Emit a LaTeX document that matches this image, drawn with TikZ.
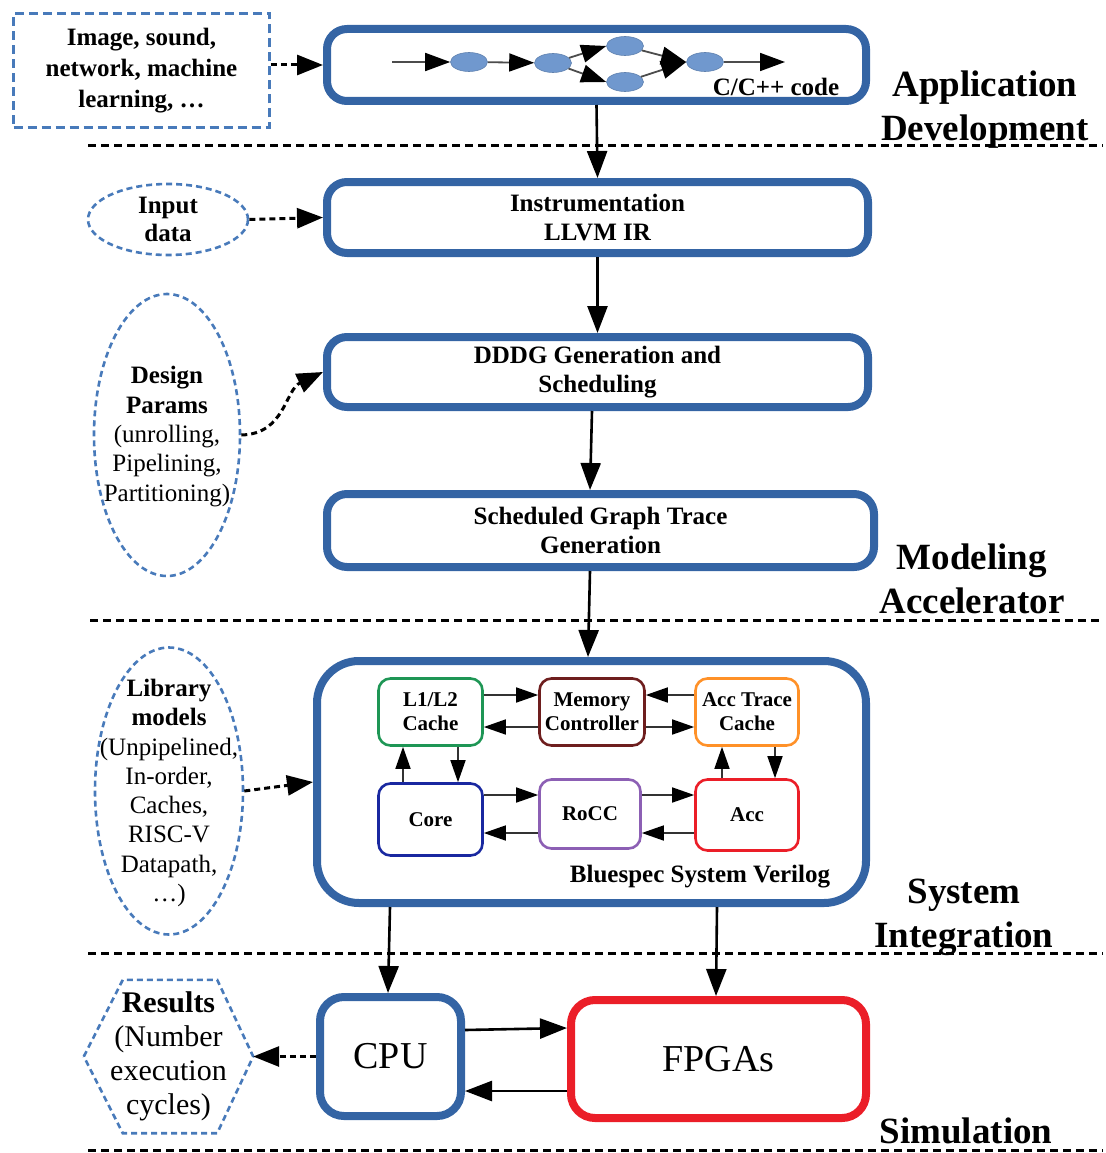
\documentclass[tikz,border=0pt]{standalone}
\usepackage{fontspec}
\setmainfont{Liberation Serif}
\usetikzlibrary{arrows.meta,shapes.geometric}
\definecolor{mblue}{RGB}{52,100,164}
\definecolor{dblue}{RGB}{72,122,186}
\definecolor{gfill}{RGB}{112,152,206}
\definecolor{cgreen}{RGB}{30,150,85}
\definecolor{cbrown}{RGB}{110,30,30}
\definecolor{corange}{RGB}{255,145,40}
\definecolor{cnavy}{RGB}{25,40,160}
\definecolor{cpurple}{RGB}{140,95,180}
\definecolor{cred}{RGB}{235,30,40}
\begin{document}
\begin{tikzpicture}[x=1pt,y=-1pt,
  bigbox/.style={draw=mblue, line width=8pt, rounded corners=20pt, align=center, inner sep=0pt, font=\bfseries\fontsize{25}{29}\selectfont},
  smallbox/.style={draw, line width=2.6pt, rounded corners=12pt, align=center, inner sep=0pt, font=\bfseries\fontsize{21}{24}\selectfont},
  dashedshape/.style={draw=dblue, line width=2.6pt, dash pattern=on 6pt off 4pt, inner sep=0pt},
  lbl/.style={align=center, inner sep=0pt, font=\fontsize{25}{29.3}\selectfont},
  seclbl/.style={align=center, inner sep=0pt, font=\bfseries\fontsize{37}{44}\selectfont},
  sep/.style={line width=3pt, dash pattern=on 8pt off 5pt},
  marrow/.style={line width=2.6pt, -{Triangle[length=27pt,width=20pt]}},
  darrow/.style={line width=3pt, dash pattern=on 6pt off 4pt, -{Triangle[length=26pt,width=20pt]}},
  iarrow/.style={draw=black!80, line width=1.6pt, -{Triangle[length=22pt,width=15pt,color=black]}},
  garrow/.style={draw=black!70, line width=1.8pt, -{Triangle[length=25pt,width=18pt,color=black]}},
  gnode/.style={ellipse, fill=gfill, draw=gfill!85!black, line width=0.6pt, minimum width=37pt, minimum height=19pt, inner sep=0pt}
]
\useasboundingbox (0,0) rectangle (1105,1153);

% separators
\draw[sep] (88,145) -- (1103,145);
\draw[sep] (90,620) -- (1103,620);
\draw[sep] (88,953) -- (1103,953);
\draw[sep] (88,1150) -- (1103,1150);

% section labels
\node[seclbl] (lapp) at (985,110) {Application\\Development};
\node[seclbl] (lmod) at (972,579) {Modeling\\Accelerator};
\node[seclbl] (lsys) at (964,917) {System\\Integration};
\node[seclbl] (lsim) at (966,1131) {Simulation};

% main boxes
\node[bigbox, minimum width=539pt, minimum height=72pt] (app) at (596.5,65) {};
\node[bigbox, minimum width=541pt, minimum height=71pt] (instr) at (597.5,217.5) {Instrumentation\\LLVM IR};
\node[bigbox, minimum width=541pt, minimum height=70pt] (dddg) at (597.5,372) {DDDG Generation and\\Scheduling};
\node[bigbox, minimum width=547pt, minimum height=73pt] (sched) at (600.5,530.5) {Scheduled Graph Trace\\Generation};
\node[bigbox, rounded corners=42pt, minimum width=549pt, minimum height=242pt] (bsv) at (591.5,782) {};
\node[bigbox, rounded corners=24pt, minimum width=141pt, minimum height=119pt, font=\fontsize{38}{44}\selectfont] (cpu) at (390.5,1056.5) {CPU};
\node[bigbox, draw=cred, rounded corners=24pt, minimum width=295pt, minimum height=118pt, font=\fontsize{38}{44}\selectfont] (fpga) at (718.5,1059) {FPGAs};

% graph inside app box
\node[lbl, font=\bfseries\fontsize{25}{29}\selectfont] (ccode) at (776,87) {C/C++ code};
\coordinate (gs) at (392,62);
\coordinate (ge) at (785,62);
\node[gnode] (e1) at (469,62) {};
\node[gnode] (e2) at (553,63) {};
\node[gnode] (e3) at (625,46) {};
\node[gnode] (e4) at (625,82) {};
\node[gnode] (e5) at (705,62) {};
\draw[garrow] (gs) -- (e1);
\draw[garrow] (e1) -- (e2);
\draw[garrow] (e2) -- (e3.west);
\draw[garrow] (e2) -- (e4.west);
\draw[garrow] (e3) -- (e5.west);
\draw[garrow] (e4) -- (e5.west);
\draw[garrow] (e5) -- (ge);

% left side inputs
\node[dashedshape, dash pattern=on 9pt off 5pt, minimum width=256pt, minimum height=114pt, align=center, font=\bfseries\fontsize{25}{31}\selectfont] (src) at (141.5,70.5) {Image, sound,\\network, machine\\learning, \ldots};
\node[dashedshape, ellipse, minimum width=160pt, minimum height=71pt] (input) at (168,219.5) {};
\node[lbl, font=\bfseries\fontsize{25}{28}\selectfont] (inputtxt) at (input.center) {Input\\data};
\node[dashedshape, ellipse, minimum width=146pt, minimum height=282pt] (design) at (167,435) {};
\node[lbl] (designtxt) at ([yshift=-1.5pt]design.center) {\textbf{Design}\\\textbf{Params}\\(unrolling,\\Pipelining,\\Partitioning)};
\node[dashedshape, ellipse, minimum width=148pt, minimum height=287pt] (lib) at (169,791) {};
\node[lbl] (libtxt) at ([yshift=-2pt]lib.center) {\textbf{Library}\\\textbf{models}\\(Unpipelined,\\In-order,\\Caches,\\RISC-V\\Datapath,\\\ldots)};
\node[minimum width=169pt, minimum height=153pt, inner sep=0pt, align=center, font=\fontsize{30}{34}\selectfont] (res) at (168.5,1056.5) {\textbf{Results}\\(Number\\execution\\cycles)};
\draw[dashedshape] (res.west) -- ([xshift=39pt]res.north west) -- ([xshift=-36pt]res.north east) -- (res.east) -- ([xshift=-36pt]res.south east) -- ([xshift=39pt]res.south west) -- cycle;

% inner boxes
\node[smallbox, draw=cgreen, minimum width=104pt, minimum height=67pt] (l1) at (430.5,712) {L1/L2\\Cache};
\node[smallbox, draw=cbrown, minimum width=105pt, minimum height=67pt] (mem) at (592,712) {Memory\\Controller};
\node[smallbox, draw=corange, minimum width=103pt, minimum height=67pt] (atc) at (747,712) {Acc Trace\\Cache};
\node[smallbox, draw=cnavy, minimum width=104pt, minimum height=72pt] (core) at (430.5,819.5) {Core};
\node[smallbox, draw=cpurple, minimum width=101pt, minimum height=69pt] (rocc) at (590,814) {RoCC};
\node[smallbox, draw=cred, minimum width=103pt, minimum height=71pt] (acc) at (747,815) {Acc};
\node[lbl, font=\bfseries\fontsize{25}{29}\selectfont] (bsvtxt) at (700,877) {Bluespec System Verilog};

\draw[iarrow] ([yshift=17pt]l1.east) -- ([yshift=17pt]mem.west);
\draw[iarrow] ([yshift=-15pt]mem.west) -- ([yshift=-15pt]l1.east);
\draw[iarrow] ([yshift=17pt]atc.west) -- ([yshift=17pt]mem.east);
\draw[iarrow] ([yshift=-15pt]mem.east) -- ([yshift=-15pt]atc.west);
\draw[iarrow] ([xshift=27.5pt]l1.south) -- ([xshift=27.5pt]core.north);
\draw[iarrow] ([xshift=-27.5pt]core.north) -- ([xshift=-27.5pt]l1.south);
\draw[iarrow] ([yshift=24.5pt]core.east) -- ([yshift=19pt]rocc.west);
\draw[iarrow] ([yshift=-19pt]rocc.west) -- ([yshift=-13.5pt]core.east);
\draw[iarrow] ([yshift=19pt]rocc.east) -- ([yshift=20pt]acc.west);
\draw[iarrow] ([yshift=-18pt]acc.west) -- ([yshift=-19pt]rocc.east);
\draw[iarrow] ([xshift=-25pt]acc.north) -- ([xshift=-25pt]atc.south);
\draw[iarrow] ([xshift=28pt]atc.south) -- ([xshift=28pt]acc.north);

% main flow arrows
\draw[marrow] (app.south) -- (instr.north);
\draw[marrow] (instr.south) -- (dddg.north);
\draw[marrow] ([xshift=-5.5pt]dddg.south) -- ([xshift=-10.5pt]sched.north);
\draw[marrow] ([xshift=-10.5pt]sched.south) -- ([xshift=-3.5pt]bsv.north);
\draw[marrow] ([xshift=-201.5pt]bsv.south) -- ([xshift=-2.5pt]cpu.north);
\draw[marrow] ([xshift=125.5pt]bsv.south) -- ([xshift=-2.5pt]fpga.north);
\draw[marrow] ([yshift=26.5pt]cpu.east) -- ([yshift=31pt]fpga.west);
\draw[marrow] ([yshift=-32pt]fpga.west) -- ([yshift=-34.5pt]cpu.east);

% dotted inputs
\draw[darrow] (src.east |- app.west) -- (app.west);
\draw[darrow] (input.east) -- (instr.west);
\draw[darrow] (design.east) .. controls (285,434) and (285,390) .. (dddg.west);
\draw[darrow] (lib.east) -- (bsv.west);
\draw[darrow] (cpu.west) -- (res.east);
\end{tikzpicture}
\end{document}
